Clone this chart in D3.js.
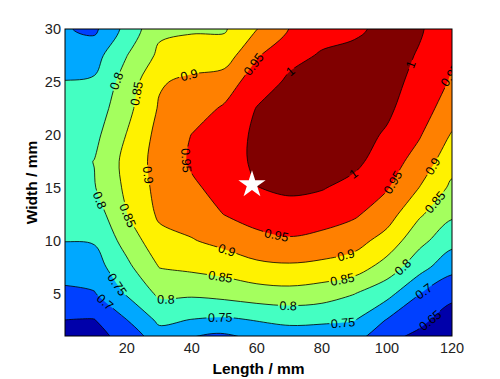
<!DOCTYPE html>
<html lang="en">
<head>
    <meta charset="UTF-8">
    <title>Width / Length contour</title>
    <script src="https://cdn.jsdelivr.net/npm/d3@7/dist/d3.min.js"></script>
    <style>
        body {
            margin: 0;
            background: #fff;
        }

        svg {
            display: block;
        }

        svg text {
            font-family: "Liberation Sans", Arial, sans-serif;
        }

        .tick-label {
            font-size: 14.5px;
            fill: #222;
        }

        .axis-title {
            font-size: 15.5px;
            font-weight: bold;
            fill: #000;
        }

        .clabel {
            font-size: 12.5px;
            fill: #000;
        }

        .cline {
            fill: none;
            stroke: #000;
            stroke-width: 0.8;
        }
    </style>
</head>
<body>
<svg width="500" height="379"></svg>
<script>

    // sample grid (mm)
    var lengths = [0, 10, 20, 30, 40, 50, 60, 70, 80, 90, 100, 110, 120];
    var widths = [0, 2.5, 5, 7.5, 10, 12.5, 15, 17.5, 20, 22.5, 25, 27.5, 30];

    // one row per width (bottom row first), one value per length
    var zRows = [
        [0.610, 0.610, 0.670, 0.710, 0.675, 0.660, 0.700, 0.710, 0.705, 0.695, 0.655, 0.620, 0.580],
        [0.650, 0.648, 0.699, 0.760, 0.748, 0.742, 0.752, 0.760, 0.758, 0.752, 0.697, 0.664, 0.622],
        [0.689, 0.697, 0.755, 0.809, 0.808, 0.817, 0.828, 0.833, 0.824, 0.801, 0.767, 0.701, 0.665],
        [0.723, 0.728, 0.788, 0.851, 0.860, 0.870, 0.887, 0.892, 0.886, 0.875, 0.828, 0.769, 0.714],
        [0.751, 0.754, 0.819, 0.884, 0.897, 0.914, 0.935, 0.944, 0.935, 0.918, 0.881, 0.814, 0.767],
        [0.762, 0.773, 0.849, 0.908, 0.922, 0.951, 0.970, 0.982, 0.973, 0.957, 0.922, 0.857, 0.808],
        [0.773, 0.797, 0.860, 0.916, 0.943, 0.965, 0.999, 1.008, 1.003, 0.984, 0.954, 0.899, 0.840],
        [0.778, 0.801, 0.865, 0.920, 0.956, 0.975, 1.010, 1.020, 1.020, 1.012, 0.974, 0.930, 0.869],
        [0.774, 0.787, 0.852, 0.916, 0.951, 0.972, 1.010, 1.025, 1.030, 1.020, 0.994, 0.954, 0.896],
        [0.765, 0.772, 0.835, 0.905, 0.928, 0.956, 1.002, 1.020, 1.030, 1.030, 1.010, 0.968, 0.930],
        [0.751, 0.756, 0.822, 0.895, 0.912, 0.925, 0.976, 1.008, 1.020, 1.025, 1.020, 0.982, 0.945],
        [0.732, 0.731, 0.799, 0.860, 0.871, 0.875, 0.945, 0.987, 1.004, 1.015, 1.020, 0.996, 0.960],
        [0.705, 0.690, 0.766, 0.840, 0.845, 0.845, 0.899, 0.951, 0.985, 0.990, 1.015, 1.005, 0.970]
    ];

    var levels = [0.65, 0.7, 0.75, 0.8, 0.85, 0.9, 0.95, 1];
    var bandColors = ['#0000aa', '#0040ff', '#00a8ff', '#44ffc2', '#a4ff5e', '#fff200', '#ff8000', '#ff0000', '#800000'];

    var xTicks = [20, 40, 60, 80, 100, 120];
    var yTicks = [5, 10, 15, 20, 25, 30];

    // where the contour labels sit: [level, length, width]
    var labelSpots = [
        [0.8, 15.8, 25.2], [0.85, 21.0, 24.0], [0.9, 39.1, 25.7], [0.95, 58.5, 26.8],
        [1, 69.3, 26.4], [1, 108.6, 26.5], [0.95, 118.2, 25.9], [0.9, 25.9, 16.2],
        [0.95, 38.2, 17.6], [0.8, 11.5, 13.8], [0.85, 20.4, 12.4], [0.75, 16.7, 5.8],
        [0.7, 13.6, 4.3], [0.8, 32.1, 4.1], [0.75, 48.7, 2.8], [0.9, 50.5, 8.9],
        [0.85, 48.7, 6.5], [0.95, 65.9, 10.3], [0.9, 87.4, 8.6], [0.85, 86.5, 6.0],
        [0.8, 69.6, 3.7], [0.75, 86.5, 2.2], [0.95, 103.1, 15.3], [0.9, 114.2, 17.0],
        [0.85, 114.2, 13.8], [0.8, 104.3, 7.7], [0.7, 111.4, 5.2], [0.65, 115.1, 1.8],
        [1, 89.6, 16.4]
    ];

    var bestPoint = [58.5, 15.3];

    var svg = d3.select('svg'),
        margin = {
            top: 29,
            right: 48,
            bottom: 43,
            left: 65
        },
        width = 500,
        height = 379,
        plotW = width - margin.left - margin.right,
        plotH = height - margin.top - margin.bottom;

    var xScale = d3.scaleLinear().domain([1, 120]).range([margin.left, margin.left + plotW]),
        yScale = d3.scaleLinear().domain([1, 30]).range([margin.top + plotH, margin.top]);

    // pad the grid by one repeated cell on each side so the closing
    // edges of the rings end up outside the clipped plot area
    var nx = lengths.length,
        ny = widths.length,
        cols = nx + 2,
        rows = ny + 2,
        dxg = lengths[1] - lengths[0],
        dyg = widths[1] - widths[0],
        values = new Array(cols * rows);

    for (var j = 0; j < rows; j++) {
        var jj = Math.max(0, Math.min(ny - 1, j - 1));
        for (var i = 0; i < cols; i++) {
            var ii = Math.max(0, Math.min(nx - 1, i - 1));
            values[j * cols + i] = zRows[jj][ii];
        }
    }

    function gridX(g) {
        return lengths[0] + (g - 1.5) * dxg;
    }

    function gridY(g) {
        return widths[0] + (g - 1.5) * dyg;
    }

    var contours = d3.contours()
                        .size([cols, rows])
                        .thresholds(levels)(values);

    var ringLine = d3.line()
                        .x(function(p) { return xScale(gridX(p[0])); })
                        .y(function(p) { return yScale(gridY(p[1])); })
                        .curve(d3.curveCatmullRomClosed.alpha(0.5));

    function contourPath(geom) {
        var d = '';
        geom.coordinates.forEach(function(poly) {
            poly.forEach(function(ring) {
                d += ringLine(ring.slice(0, -1));
            });
        });
        return d;
    }

    var defs = svg.append('defs');

    defs.append('clipPath')
        .attr('id', 'plot-clip')
        .append('rect')
        .attr('x', margin.left)
        .attr('y', margin.top)
        .attr('width', plotW)
        .attr('height', plotH);

    var gapMask = defs.append('mask')
                        .attr('id', 'label-gaps')
                        .attr('maskUnits', 'userSpaceOnUse')
                        .attr('x', 0)
                        .attr('y', 0)
                        .attr('width', width)
                        .attr('height', height);

    gapMask.append('rect')
            .attr('width', width)
            .attr('height', height)
            .attr('fill', '#fff');

    var plot = svg.append('g')
                    .attr('clip-path', 'url(#plot-clip)');

    plot.append('rect')
        .attr('x', margin.left)
        .attr('y', margin.top)
        .attr('width', plotW)
        .attr('height', plotH)
        .style('fill', bandColors[0]);

    plot.selectAll('.band')
        .data(contours)
        .enter()
        .append('path')
        .classed('band', true)
        .attr('d', contourPath)
        .style('fill-rule', 'evenodd')
        .style('fill', function(d, i) {
            return bandColors[i + 1];
        });

    var lineGroup = plot.append('g')
                        .attr('mask', 'url(#label-gaps)');

    var linePaths = lineGroup.selectAll('.cline')
                        .data(contours)
                        .enter()
                        .append('path')
                        .classed('cline', true)
                        .attr('d', contourPath);

    // put each label on the drawn line nearest to its spot
    var labelGroup = plot.append('g');

    labelSpots.forEach(function(spot) {
        var k = levels.indexOf(spot[0]);
        var el = linePaths.nodes()[k];
        var tx = xScale(spot[1]),
            ty = yScale(spot[2]);
        var len = el.getTotalLength(),
            best = 0,
            bestD = Infinity,
            l, p, dd;

        for (l = 0; l <= len; l += 2) {
            p = el.getPointAtLength(l);
            dd = (p.x - tx) * (p.x - tx) + (p.y - ty) * (p.y - ty);
            if (dd < bestD) { bestD = dd; best = l; }
        }
        for (l = Math.max(0, best - 2); l <= Math.min(len, best + 2); l += 0.25) {
            p = el.getPointAtLength(l);
            dd = (p.x - tx) * (p.x - tx) + (p.y - ty) * (p.y - ty);
            if (dd < bestD) { bestD = dd; best = l; }
        }

        var c = el.getPointAtLength(best),
            p1 = el.getPointAtLength(Math.max(0, best - 3)),
            p2 = el.getPointAtLength(Math.min(len, best + 3));
        var angle = Math.atan2(p2.y - p1.y, p2.x - p1.x) * 180 / Math.PI;
        if (angle > 90) angle -= 180;
        if (angle <= -90) angle += 180;

        var tr = 'translate(' + [c.x, c.y] + ') rotate(' + angle + ')';

        var txt = labelGroup.append('text')
                    .classed('clabel', true)
                    .attr('transform', tr)
                    .attr('text-anchor', 'middle')
                    .attr('dy', '0.36em')
                    .text(String(spot[0]));

        var w = txt.node().getComputedTextLength() + 3;

        gapMask.append('rect')
                .attr('transform', tr)
                .attr('x', -w / 2)
                .attr('y', -5.5)
                .attr('width', w)
                .attr('height', 11)
                .attr('fill', '#000');
    });

    plot.append('path')
        .attr('d', d3.symbol().type(d3.symbolStar).size(230)())
        .attr('transform', 'translate(' + [xScale(bestPoint[0]), yScale(bestPoint[1])] + ')')
        .style('fill', '#fff');

    svg.append('rect')
        .attr('x', margin.left)
        .attr('y', margin.top)
        .attr('width', plotW)
        .attr('height', plotH)
        .style('fill', 'none')
        .style('stroke', '#000')
        .style('stroke-width', 1);

    svg.selectAll('.x-tick')
        .data(xTicks)
        .enter()
        .append('text')
        .attr('class', 'tick-label x-tick')
        .attr('x', function(d) { return xScale(d); })
        .attr('y', margin.top + plotH + 17)
        .attr('text-anchor', 'middle')
        .text(function(d) { return d; });

    svg.selectAll('.y-tick')
        .data(yTicks)
        .enter()
        .append('text')
        .attr('class', 'tick-label y-tick')
        .attr('x', margin.left - 4)
        .attr('y', function(d) { return yScale(d); })
        .attr('dy', '0.36em')
        .attr('text-anchor', 'end')
        .text(function(d) { return d; });

    svg.append('text')
        .classed('axis-title', true)
        .attr('x', margin.left + plotW / 2)
        .attr('y', 374)
        .attr('text-anchor', 'middle')
        .text('Length / mm');

    svg.append('text')
        .classed('axis-title', true)
        .attr('transform', 'translate(' + [37, margin.top + plotH / 2] + ') rotate(-90)')
        .attr('text-anchor', 'middle')
        .text('Width / mm');

</script>
</body>
</html>
